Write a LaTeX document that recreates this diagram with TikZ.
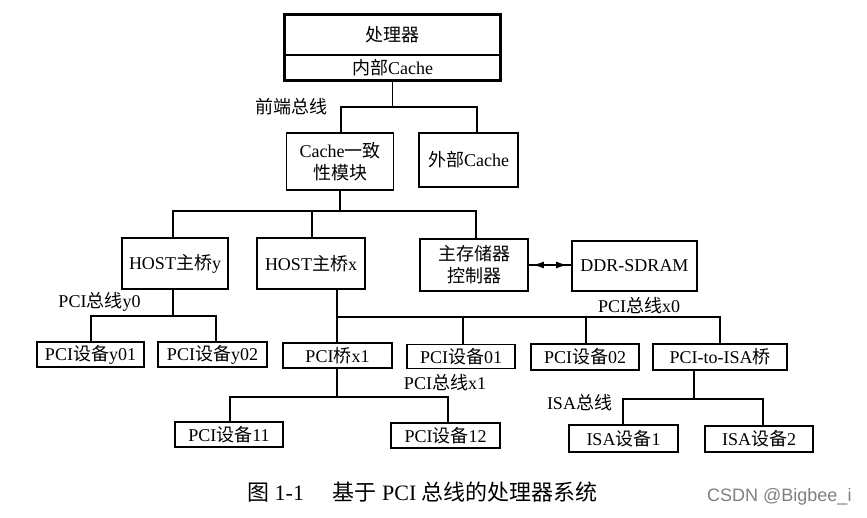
\documentclass[tikz,border=0pt]{standalone}
\usepackage{fontspec}
\setmainfont{Liberation Serif}
\newfontfamily\cjk{Noto Sans CJK SC}
\newfontfamily\wmfont{Liberation Sans}
\usetikzlibrary{arrows.meta}
\newcommand{\zh}[1]{{\cjk #1}}
\begin{document}
\begin{tikzpicture}[x=1pt,y=-1pt,
  box/.style={draw, line width=1.8pt, inner sep=0pt, align=center,
    font=\fontsize{18}{22}\selectfont},
  wire/.style={line width=1.4pt},
  lbl/.style={inner sep=0pt, font=\fontsize{18}{22}\selectfont}]
\fill[white] (0,0) rectangle (867,518);
\useasboundingbox (0,0) rectangle (867,518);

% top
\node[box, minimum width=215pt, minimum height=40pt] (proc) at (392.5,35) {\zh{处理器}};
\node[box, line width=1.3pt, minimum width=215pt, minimum height=25pt] (icache) at (392.5,67.5) {\zh{内部}Cache};
\draw[line width=1.8pt] (proc.north west) rectangle (icache.south east);
\node[box, minimum width=107pt, minimum height=57pt] (coh) at (340,161.5) {Cache\zh{一致}\\\zh{性模块}};
\node[box, minimum width=99pt, minimum height=54pt] (ext) at (468.5,160) {\zh{外部}Cache};

% second row
\node[box, minimum width=106pt, minimum height=51pt] (hosty) at (175,263.5) {HOST\zh{主桥}y};
\node[box, minimum width=108pt, minimum height=51pt] (hostx) at (311,263.5) {HOST\zh{主桥}x};
\node[box, minimum width=108pt, minimum height=52pt] (memc) at (474,265) {\zh{主存储器}\\\zh{控制器}};
\node[box, minimum width=125pt, minimum height=50pt] (ddr) at (634.5,266) {DDR-SDRAM};

% third row
\node[box, minimum width=107pt, minimum height=25pt] (y01) at (90.5,354.5) {PCI\zh{设备}y01};
\node[box, minimum width=109pt, minimum height=25pt] (y02) at (212.5,354.5) {PCI\zh{设备}y02};
\node[box, minimum width=109pt, minimum height=25pt] (bx1) at (337.5,355.5) {PCI\zh{桥}x1};
\node[box, minimum width=108pt, minimum height=24pt] (d01) at (461,356.5) {PCI\zh{设备}01};
\node[box, minimum width=108pt, minimum height=26pt] (d02) at (585,357) {PCI\zh{设备}02};
\node[box, minimum width=134pt, minimum height=26pt] (isab) at (720,357) {PCI-to-ISA\zh{桥}};

% fourth row
\node[box, minimum width=108pt, minimum height=25pt] (d11) at (229,434.5) {PCI\zh{设备}11};
\node[box, minimum width=109pt, minimum height=25pt] (d12) at (445.5,435.5) {PCI\zh{设备}12};
\node[box, minimum width=109pt, minimum height=27pt] (isa1) at (623.5,438.5) {ISA\zh{设备}1};
\node[box, minimum width=108pt, minimum height=26pt] (isa2) at (759,439) {ISA\zh{设备}2};

% labels
\node[lbl] (lfb) at (291,107) {\zh{前端总线}};
\node[lbl] (lx0) at (639,306) {PCI\zh{总线}x0};
\node[lbl] (ly0) at (99.5,302) {PCI\zh{总线}y0};
\node[lbl] (lx1) at (445,383) {PCI\zh{总线}x1};
\node[lbl] (lisa) at (579.5,403) {ISA\zh{总线}};

% front bus
\coordinate (fbL) at (341,107);
\coordinate (fbR) at (477,107);
\draw[wire] (icache.south) -- (icache.south |- fbL);
\draw[wire] (coh.north -| fbL) -- (fbL) -- (fbR) -- (ext.north -| fbR);

% bus below coherence module
\coordinate (sA1) at (173,211);
\coordinate (sA2) at (312,211);
\coordinate (sA3) at (476,211);
\draw[wire] (coh.south) -- (coh.south |- sA2);
\draw[wire] (hosty.north -| sA1) -- (sA1) -- (sA3) -- (memc.north -| sA3);
\draw[wire] (sA2) -- (hostx.north -| sA2);

% memory arrow
\draw[wire] (memc.east) -- (memc.east -| ddr.west);
\draw[line width=1.4pt, {Latex[length=11pt,width=7pt]}-{Latex[length=11pt,width=7pt]},
  shorten <=4pt, shorten >=4pt] (memc.east) -- (memc.east -| ddr.west);

% PCI bus y0
\coordinate (py0) at (173,316);
\coordinate (py1) at (91,316);
\coordinate (py2) at (216,316);
\draw[wire] (hosty.south -| py0) -- (py0);
\draw[wire] (y01.north -| py1) -- (py1) -- (py2) -- (y02.north -| py2);

% PCI bus x0
\coordinate (px0) at (337,317);
\coordinate (px3) at (463,317);
\coordinate (px4) at (586,317);
\coordinate (px5) at (720,317);
\draw[wire] (hostx.south -| px0) -- (px0) -- (px5) -- (isab.north -| px5);
\draw[wire] (px0) -- (bx1.north -| px0);
\draw[wire] (px3) -- (d01.north -| px3);
\draw[wire] (px4) -- (d02.north -| px4);

% PCI bus x1
\coordinate (q0) at (337,397);
\coordinate (q1) at (230,397);
\coordinate (q2) at (448,397);
\draw[wire] (bx1.south -| q0) -- (q0);
\draw[wire] (d11.north -| q1) -- (q1) -- (q2) -- (d12.north -| q2);

% ISA bus
\coordinate (r0) at (694,399);
\coordinate (r1) at (623,399);
\coordinate (r2) at (763,399);
\draw[wire] (isab.south -| r0) -- (r0);
\draw[wire] (isa1.north -| r1) -- (r1) -- (r2) -- (isa2.north -| r2);

% caption
\node[inner sep=0pt, anchor=west, font=\fontsize{22}{26}\selectfont] (cap) at (247,492)
  {\zh{图} 1-1\hspace{1.3em}\zh{基于} PCI \zh{总线的处理器系统}};
\node[inner sep=0pt, anchor=west, text=black!50, font=\wmfont\fontsize{18}{22}\selectfont] (wm) at (707,497)
  {CSDN @Bigbee\_i};
\end{tikzpicture}
\end{document}
